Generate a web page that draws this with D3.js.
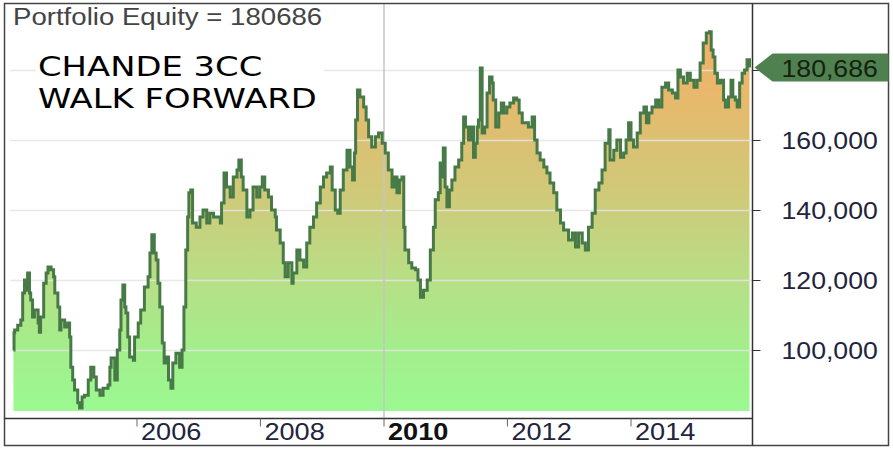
<!DOCTYPE html>
<html>
<head>
<meta charset="utf-8">
<script src="https://cdn.jsdelivr.net/npm/d3@7"></script>
<style>
  body { margin: 0; background: #fff; }
  svg { display: block; font-family: "Liberation Sans", Arial, sans-serif; }
</style>
</head>
<body>
<svg id="chart"></svg>
<script>
// equity curve (decimal years / dollars)
const years = [
  2004.00,2004.01,2004.02,2004.07,2004.12,2004.15,2004.18,2004.20,2004.23,2004.26,
  2004.28,2004.31,2004.34,2004.40,2004.42,2004.44,2004.49,2004.53,2004.56,2004.61,
  2004.65,2004.67,2004.72,2004.75,2004.77,2004.83,2004.88,2004.91,2004.93,2004.96,
  2004.99,2005.04,2005.07,2005.11,2005.15,2005.21,2005.25,2005.30,2005.34,2005.40,
  2005.45,2005.53,2005.56,2005.58,2005.64,2005.68,2005.72,2005.74,2005.77,2005.80,
  2005.82,2005.85,2005.88,2005.94,2005.96,2006.02,2006.06,2006.12,2006.18,2006.21,
  2006.24,2006.28,2006.31,2006.34,2006.37,2006.41,2006.44,2006.47,2006.51,2006.55,
  2006.58,2006.63,2006.69,2006.73,2006.76,2006.79,2006.82,2006.84,2006.87,2006.90,
  2006.96,2007.02,2007.07,2007.13,2007.18,2007.24,2007.29,2007.35,2007.37,2007.41,
  2007.45,2007.51,2007.56,2007.62,2007.65,2007.69,2007.72,2007.78,2007.83,2007.88,
  2007.94,2007.99,2008.03,2008.07,2008.13,2008.18,2008.24,2008.26,2008.32,2008.37,
  2008.40,2008.45,2008.51,2008.53,2008.59,2008.64,2008.70,2008.75,2008.80,2008.86,
  2008.91,2008.97,2009.02,2009.07,2009.13,2009.16,2009.21,2009.25,2009.29,2009.34,
  2009.40,2009.45,2009.49,2009.52,2009.54,2009.57,2009.61,2009.67,2009.71,2009.75,
  2009.80,2009.86,2009.91,2009.97,2010.02,2010.07,2010.13,2010.17,2010.21,2010.25,
  2010.29,2010.32,2010.34,2010.40,2010.45,2010.51,2010.55,2010.59,2010.64,2010.70,
  2010.75,2010.80,2010.83,2010.88,2010.91,2010.94,2010.96,2010.99,2011.02,2011.06,
  2011.10,2011.15,2011.21,2011.26,2011.29,2011.32,2011.37,2011.41,2011.45,2011.48,
  2011.51,2011.53,2011.56,2011.59,2011.63,2011.67,2011.71,2011.75,2011.77,2011.81,
  2011.86,2011.90,2011.94,2011.99,2012.04,2012.10,2012.15,2012.19,2012.24,2012.29,
  2012.34,2012.40,2012.44,2012.48,2012.53,2012.59,2012.64,2012.69,2012.75,2012.80,
  2012.86,2012.91,2012.99,2013.05,2013.10,2013.15,2013.21,2013.26,2013.31,2013.37,
  2013.42,2013.48,2013.53,2013.58,2013.64,2013.66,2013.72,2013.77,2013.83,2013.88,
  2013.92,2013.96,2014.00,2014.04,2014.10,2014.15,2014.21,2014.25,2014.29,2014.34,
  2014.40,2014.45,2014.50,2014.56,2014.61,2014.67,2014.72,2014.76,2014.80,2014.85,
  2014.91,2014.96,2015.02,2015.07,2015.12,2015.17,2015.22,2015.27,2015.30,2015.33,
  2015.36,2015.40,2015.45,2015.50,2015.53,2015.58,2015.62,2015.65,2015.69,2015.72,
  2015.76,2015.80,2015.84,2015.88,2015.92
];
const equity = [
  100000,104900,105700,107100,108600,116300,120000,117100,122000,116300,
  114300,109400,111400,107700,105100,109400,119100,122000,123700,122900,
  120900,116300,112300,105700,108600,106600,107700,103700,95100,91400,
  88600,84900,83400,86600,87100,91400,95100,92300,88600,87100,
  89100,90000,95100,97700,91400,100000,105700,114300,118600,112300,
  110600,103700,98000,97100,103700,107700,111400,118000,120900,127700,
  132900,127700,125700,119100,112300,102000,96300,98000,91400,89100,
  96300,99100,95100,100000,112300,128600,138000,144900,145700,136300,
  135100,138000,140000,136300,139100,138000,138000,136300,142000,150600,
  146600,143700,149400,151400,154300,149400,145700,138000,140000,146600,
  143700,146600,149400,145700,143700,140000,138000,134300,130600,124900,
  120900,124900,119100,122000,128600,125700,123700,130600,135100,138000,
  142000,146600,149400,150600,152300,145700,140000,139100,145700,151400,
  157100,152300,148600,156300,165700,174300,172300,169400,165700,160900,
  158000,160900,162000,159100,156300,151400,146600,149400,144900,148600,
  149400,135100,128600,124900,123400,122900,120000,115100,117100,120000,
  128600,135100,142900,144900,153400,149400,157700,146600,140900,145700,
  148600,152300,154300,159100,166600,163700,160000,163700,155100,159100,
  163700,165700,180600,162000,163700,173400,178000,176300,171400,163700,
  167700,170600,167700,169400,170600,172000,171400,167700,164900,164900,
  163700,166600,160000,156300,154300,152300,150600,147700,144900,140000,
  136300,134300,131400,133400,129400,133400,130600,128600,135100,139100,
  145700,147700,151400,159100,162900,154300,157100,160000,155100,156300,
  160000,164900,160000,158000,162000,167700,169400,164900,167700,169400,
  171400,169400,175100,176300,174300,173400,172000,180000,178000,176300,
  179100,177100,175100,177100,182000,187700,190600,190900,185700,183700,
  179100,176300,177100,171400,169400,172300,177100,172300,171400,169400,
  176300,179100,180000,182900,180686
];
const xTickYears = [2006, 2008, 2010, 2012, 2014];
const boldYear = 2010;
const yTickValues = [100000, 120000, 140000, 160000, 180000];
const noteLines = ["CHANDE 3CC", "WALK FORWARD"];
const baseValue = 82600;
const gradientValues = [82600, 100000, 120000, 140000, 160000, 175000, 192000];
const gradientColors = ["#9bf992", "#a3ee8c", "#b7df86", "#cbcd7b", "#dcc072", "#eab76b", "#f2b066"];

const width = 893, height = 449;
const frame = { left: 4.5, top: 3.5, right: 888.5, bottom: 445.5 };
const axisX = 752.5, axisY = 418.5;

const toDate = t => {
    const y = Math.floor(t);
    const start = new Date(y, 0, 1).getTime();
    return new Date(start + (t - y) * 365.25 * 864e5);
};
const data = years.map((t, i) => ({ date: toDate(t), value: equity[i] }));
const last = data[data.length - 1];

const svg = d3.select("#chart")
    .attr("width", width)
    .attr("height", height);

// scales pinned to the tick positions seen in the picture
const x = d3.scaleTime()
    .domain([new Date(2006, 0, 1), new Date(2014, 0, 1)])
    .range([137, 631]);
const y = d3.scaleLinear()
    .domain([100000, 180000])
    .range([350, 70]);

// stretch text horizontally, the source picture is wider than tall
const stretch = (sel, k) => sel.each(function () {
    const w = this.getComputedTextLength();
    d3.select(this).attr("textLength", w * k).attr("lengthAdjust", "spacingAndGlyphs");
});

const defs = svg.append("defs");
const g0 = y(gradientValues[0]), g1 = y(gradientValues[gradientValues.length - 1]);
const grad = defs.append("linearGradient")
    .attr("id", "fillGrad")
    .attr("gradientUnits", "userSpaceOnUse")
    .attr("x1", 0).attr("x2", 0)
    .attr("y1", g0)
    .attr("y2", g1);
grad.selectAll("stop")
    .data(gradientValues)
    .join("stop")
    .attr("offset", d => (y(d) - g0) / (g1 - g0))
    .attr("stop-color", (d, i) => gradientColors[i]);

defs.append("clipPath").attr("id", "plotClip")
    .append("rect")
    .attr("x", frame.left).attr("y", frame.top)
    .attr("width", axisX - frame.left).attr("height", axisY - frame.top);

const plot = svg.append("g").attr("clip-path", "url(#plotClip)");

// area under the equity curve
const area = d3.area()
    .curve(d3.curveStepAfter)
    .x(d => x(d.date))
    .y0(y(baseValue))
    .y1(d => y(d.value));
plot.append("path")
    .datum(data)
    .attr("fill", "url(#fillGrad)")
    .attr("d", area);

// horizontal gridlines over the fill
plot.append("g")
    .selectAll("line")
    .data(yTickValues)
    .join("line")
    .attr("x1", 10).attr("x2", axisX)
    .attr("y1", d => Math.round(y(d)) + 0.5)
    .attr("y2", d => Math.round(y(d)) + 0.5)
    .attr("stroke", "#e4e4e4")
    .attr("stroke-width", 1.5)
    .attr("opacity", 0.85);

// marker line at 2010
plot.append("line")
    .attr("x1", x(new Date(boldYear, 0, 1))).attr("x2", x(new Date(boldYear, 0, 1)))
    .attr("y1", frame.top).attr("y2", axisY)
    .attr("stroke", "#c4c4c4")
    .attr("stroke-width", 1.5);

// equity line
const line = d3.line()
    .curve(d3.curveStepAfter)
    .x(d => x(d.date))
    .y(d => y(d.value));
plot.append("path")
    .datum(data)
    .attr("fill", "none")
    .attr("stroke", "#477a46")
    .attr("stroke-width", 3)
    .attr("stroke-linejoin", "miter")
    .attr("d", line);

// frame and axis lines
svg.append("rect")
    .attr("x", frame.left).attr("y", frame.top)
    .attr("width", frame.right - frame.left)
    .attr("height", frame.bottom - frame.top)
    .attr("fill", "none")
    .attr("stroke", "#444")
    .attr("stroke-width", 1.5);
svg.append("line")
    .attr("x1", axisX).attr("x2", axisX)
    .attr("y1", frame.top).attr("y2", frame.bottom)
    .attr("stroke", "#333").attr("stroke-width", 1.5);
svg.append("line")
    .attr("x1", frame.left).attr("x2", axisX)
    .attr("y1", axisY).attr("y2", axisY)
    .attr("stroke", "#333").attr("stroke-width", 1.5);

// last-value tag position (axis labels hidden beneath it)
const ty = y(last.value);

// right value axis
const yAxis = svg.append("g");
yAxis.selectAll("line")
    .data(yTickValues)
    .join("line")
    .attr("x1", axisX).attr("x2", axisX + 8)
    .attr("y1", d => Math.round(y(d)) + 0.5)
    .attr("y2", d => Math.round(y(d)) + 0.5)
    .attr("stroke", "#333");
yAxis.selectAll("text")
    .data(yTickValues.filter(d => Math.abs(y(d) - ty) > 28))
    .join("text")
    .attr("x", axisX + 29)
    .attr("y", d => y(d) + 9)
    .attr("font-size", 24)
    .attr("fill", "#22233d")
    .text(d => d3.format(",")(d))
    .call(stretch, 1.11);

// bottom year axis
const xAxis = svg.append("g");
xAxis.selectAll("line")
    .data(xTickYears)
    .join("line")
    .attr("x1", d => x(new Date(d, 0, 1)))
    .attr("x2", d => x(new Date(d, 0, 1)))
    .attr("y1", axisY).attr("y2", axisY + 8)
    .attr("stroke", "#666");
xAxis.selectAll("text")
    .data(xTickYears)
    .join("text")
    .attr("x", d => x(new Date(d, 0, 1)) + 4)
    .attr("y", 440)
    .attr("font-size", 24)
    .attr("font-weight", d => d === boldYear ? "bold" : "normal")
    .attr("fill", d => d === boldYear ? "#111" : "#22233d")
    .text(d => d)
    .call(stretch, 1.13);

// last-value tag
svg.append("path")
    .attr("d", `M${axisX + 2},${ty} L${axisX + 20},${ty - 14} L${frame.right},${ty - 14} L${frame.right},${ty + 14} L${axisX + 20},${ty + 14} Z`)
    .attr("fill", "#4f8050");
svg.append("text")
    .attr("x", axisX + 29)
    .attr("y", ty + 9)
    .attr("font-size", 24)
    .attr("fill", "#15200f")
    .text(d3.format(",")(last.value))
    .call(stretch, 1.11);

// header
svg.append("text")
    .attr("x", 13)
    .attr("y", 25)
    .attr("font-size", 23)
    .attr("fill", "#444")
    .text(`Portfolio Equity = ${last.value}`)
    .call(stretch, 1.2);

// note box
svg.append("rect")
    .attr("x", 36).attr("y", 52)
    .attr("width", 288).attr("height", 62)
    .attr("fill", "#fff");
svg.append("g")
    .selectAll("text")
    .data(noteLines)
    .join("text")
    .attr("x", 38)
    .attr("y", (d, i) => 76 + i * 32)
    .attr("font-family", "'DejaVu Sans', Verdana, sans-serif")
    .attr("font-size", 26)
    .attr("fill", "#000")
    .text(d => d)
    .call(stretch, 1.3);
</script>
</body>
</html>
